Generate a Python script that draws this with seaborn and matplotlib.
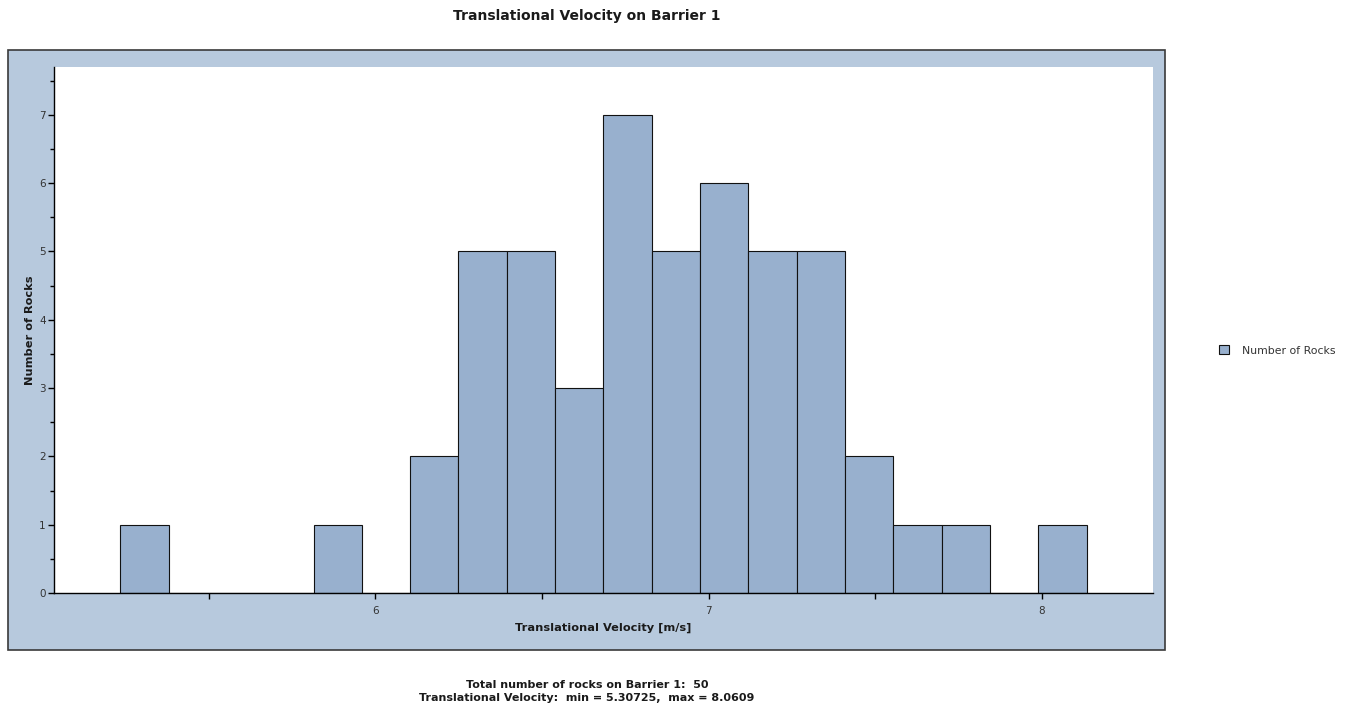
import numpy as np
import pandas as pd
import seaborn as sns
import matplotlib.pyplot as plt
from matplotlib.patches import Rectangle
from matplotlib.ticker import MultipleLocator

# bin centres run from min to max velocity, 20 bins
v_min = 5.30725
v_max = 8.0609
n_bins = 20
counts = [1, 0, 0, 0, 1, 0, 2, 5, 5, 3, 7, 5, 6, 5, 5, 2, 1, 1, 0, 1]
total_rocks = 50

centers = np.linspace(v_min, v_max, n_bins)
step = (v_max - v_min) / (n_bins - 1)
df = pd.DataFrame({'velocity': centers, 'count': counts})

bar_color = '#98b0ce'
panel_color = '#b7c9dd'
text_color = '#1a1a1a'

sns.set_style('white')
plt.rcParams['font.family'] = ['DejaVu Sans']

fig = plt.figure(figsize=(13.54, 7.08), dpi=100)

# blue frame behind the plot area
fig.patches.append(Rectangle((0.0059, 0.0819), 0.8545, 0.8475, transform=fig.transFigure,
                             facecolor=panel_color, edgecolor='#3a3a3a', linewidth=1.2, zorder=-1))

ax = fig.add_axes([0.0399, 0.1624, 0.8117, 0.7430])
ax.set_zorder(1)
ax.set_facecolor('white')

sns.histplot(data=df, x='velocity', weights='count', bins=n_bins,
             binrange=(v_min - step / 2, v_max + step / 2),
             color=bar_color, alpha=1, edgecolor='#111111', linewidth=0.8,
             label='Number of Rocks', ax=ax)

ax.set_xlim(5.036, 8.333)
ax.set_ylim(0, 7.7)
ax.xaxis.set_major_locator(MultipleLocator(1))
ax.xaxis.set_minor_locator(MultipleLocator(0.5))
ax.yaxis.set_major_locator(MultipleLocator(1))
ax.yaxis.set_minor_locator(MultipleLocator(0.5))

for side in ['top', 'right']:
    ax.spines[side].set_visible(False)
for side in ['left', 'bottom']:
    ax.spines[side].set_color('black')
    ax.spines[side].set_linewidth(1.0)

ax.tick_params(axis='both', which='both', direction='out', color='black',
               labelsize=7.5, labelcolor='#333333', left=True, bottom=True)
ax.tick_params(axis='y', which='major', length=4, width=1, pad=2)
ax.tick_params(axis='y', which='minor', length=3, width=1)
ax.tick_params(axis='x', which='major', length=4, width=1, pad=5)
ax.tick_params(axis='x', which='minor', length=4, width=1)

ax.set_xlabel('Translational Velocity [m/s]', fontsize=8.2, fontweight='bold',
              color=text_color, labelpad=5)
ax.set_ylabel('Number of Rocks', fontsize=8.2, fontweight='bold',
              color=text_color, labelpad=3)

fig.text(0.4335, 0.978, 'Translational Velocity on Barrier 1', ha='center', va='center',
         fontsize=10, fontweight='bold', color=text_color)
fig.text(0.4335, 0.0325, f'Total number of rocks on Barrier 1:  {total_rocks}',
         ha='center', va='center', fontsize=8, fontweight='bold', color=text_color)
fig.text(0.4335, 0.0135, f'Translational Velocity:  min = {v_min},  max = {v_max}',
         ha='center', va='center', fontsize=8, fontweight='bold', color=text_color)

leg = fig.legend(handles=ax.patches[:1], labels=['Number of Rocks'],
                 loc='center left', bbox_to_anchor=(0.893, 0.505), frameon=False,
                 fontsize=7.8, handlelength=0.9, handleheight=0.9, handletextpad=1.2)
for t in leg.get_texts():
    t.set_color('#333333')

fig.savefig('out.png', dpi=100)
